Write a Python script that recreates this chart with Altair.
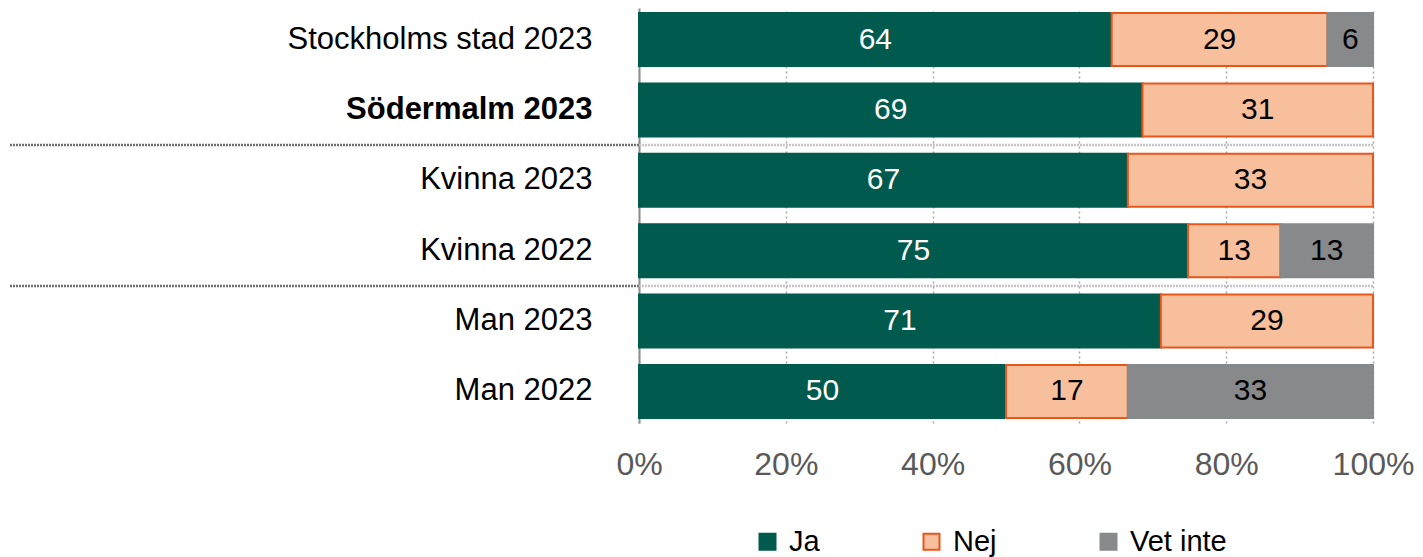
import altair as alt
import pandas as pd

categories = ["Stockholms stad 2023", "Södermalm 2023", "Kvinna 2023",
              "Kvinna 2022", "Man 2023", "Man 2022"]
responses = ["Ja", "Nej", "Vet inte"]
ja = [64.4, 68.6, 66.6, 74.8, 71.1, 50.0]
nej = [29.4, 31.4, 33.4, 12.6, 28.9, 16.6]
vet = [6.2, 0.0, 0.0, 12.6, 0.0, 33.4]
separators = ["Kvinna 2023", "Man 2023"]
x_ticks = [0, 20, 40, 60, 80, 100]

fill_colors = ["#005A4E", "#F8BF9D", "#87898B"]
stroke_colors = ["#005A4E", "#E9561B", "#87898B"]

rows = []
for i, c in enumerate(categories):
    for r, vals in zip(responses, [ja, nej, vet]):
        if vals[i] > 0:
            rows.append({"cat": c, "resp": r, "value": vals[i], "order": responses.index(r)})
df = pd.DataFrame(rows)
sep_df = pd.DataFrame({"cat": separators})

yscale = alt.Scale(domain=categories, paddingInner=0.247, paddingOuter=0.071)
xscale = alt.Scale(domain=[0, 100])

legend = alt.Legend(orient="none", legendX=114, legendY=519, direction="horizontal",
                    symbolType="square", symbolSize=256, symbolStrokeWidth=2,
                    labelFontSize=29, labelOffset=7, columnPadding=97,
                    labelColor="#000000")

base = alt.Chart(df).transform_stack(
    stack="value", groupby=["cat"], sort=[alt.SortField("order")], as_=["v0", "v1"]
).transform_calculate(mid="(datum.v0 + datum.v1) / 2")

bars = base.mark_bar(strokeWidth=2).encode(
    y=alt.Y("cat:N", scale=yscale, title=None,
            axis=alt.Axis(ticks=False, labelPadding=47, labelFontSize=31, labelColor="#000000",
                          labelFontWeight=alt.ExprRef("datum.value == 'Södermalm 2023' ? 'bold' : 'normal'"),
                          domainColor="#8c8c8c", domainWidth=2, grid=False, labelLimit=400)),
    x=alt.X("v0:Q", scale=xscale, title=None,
            axis=alt.Axis(values=x_ticks, labelExpr="datum.value + '%'", domain=False, ticks=False,
                          grid=True, gridDash=[2, 3], gridColor="#a6a6a6", gridWidth=1.5,
                          labelFlush=False,
                          labelFontSize=32, labelColor="#595959", labelPadding=26)),
    x2="v1:Q",
    color=alt.Color("resp:N", scale=alt.Scale(domain=responses, range=fill_colors), title=None,
                    legend=legend),
    stroke=alt.Stroke("resp:N", scale=alt.Scale(domain=responses, range=stroke_colors), title=None,
                      legend=legend),
)

labels = base.mark_text(fontSize=30, baseline="middle", align="center").encode(
    y=alt.Y("cat:N", scale=yscale),
    x=alt.X("mid:Q", scale=xscale),
    text=alt.Text("value:Q", format=".0f"),
    color=alt.condition("datum.resp == 'Ja'", alt.value("#ffffff"), alt.value("#000000")),
)

sep_left = alt.Chart(sep_df).mark_rule(strokeWidth=2.5, strokeDash=[2, 1], color="#6e6e6e", yOffset=-8.7).encode(
    y=alt.Y("cat:N", scale=yscale, bandPosition=0),
    x=alt.value(-629), x2=alt.value(0),
)
sep_right = alt.Chart(sep_df).mark_rule(strokeWidth=2.5, strokeDash=[2, 1], color="#c4c4c4", yOffset=-8.7).encode(
    y=alt.Y("cat:N", scale=yscale, bandPosition=0),
    x=alt.value(0), x2=alt.value(734),
)

chart = alt.layer(bars, labels, sep_left, sep_right).properties(
    width=734, height=415,
    padding={"left": 631, "top": 0, "right": 42, "bottom": 134},
    autosize=alt.AutoSizeParams(type="none"),
).configure(font="Liberation Sans").configure_view(stroke=None)

chart.save("out.html", embed_options={"renderer": "svg", "actions": False})
